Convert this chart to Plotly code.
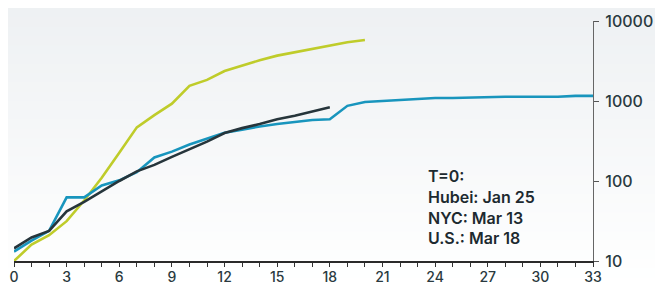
import plotly.graph_objects as go

# Data (day since T=0, cumulative count, log scale)
days_yellow = list(range(0, 21))
vals_yellow = [10, 16, 21, 31.5, 57, 110, 225, 468, 667, 927, 1550, 1835, 2370,
               2780, 3230, 3690, 4050, 4530, 4980, 5420, 5780]

days_blue = list(range(0, 34))
vals_blue = [13.1, 18, 23.8, 62.5, 62.5, 88, 102, 129, 197, 233, 286, 340, 400,
             437, 480, 515, 550, 580, 590, 870, 970, 1000, 1030, 1060, 1090, 1090,
             1110, 1110, 1130, 1130, 1130, 1130, 1160, 1160]

days_dark = list(range(0, 19))
vals_dark = [14.4, 19.7, 23.8, 41.7, 55, 75, 100, 132, 159, 200, 248, 310, 398,
             458, 515, 590, 655, 733, 835]

x_ticks = list(range(0, 34))
x_ticktext = [str(v) if v % 3 == 0 else "" for v in x_ticks]
y_ticks = [10, 100, 1000, 10000]
y_ticktext = ["10", "100", "1000", "10000"]

note_lines = ["T=0:", "Hubei: Jan 25", "NYC: Mar 13", "U.S.: Mar 18"]

fig = go.Figure()

# figure is drawn 8px in from the page corner, so size it to the visible area
W, H = 655, 279
t_m, b_m, l_m, r_m = 13, 26, 6, 70
ph = H - t_m - b_m

# background gradient bands
n = 30
top = (238, 241, 243)
bot = (255, 255, 255)
for i in range(n):
    f = i / (n - 1)
    c = tuple(int(round(top[k] + (bot[k] - top[k]) * f)) for k in range(3))
    y0px = H * i / n
    y1px = H * (i + 1) / n + 1
    fig.add_shape(type="rect", xref="paper", yref="paper", layer="below",
                  x0=-0.05, x1=1.2,
                  y0=1 - (y1px - t_m) / ph, y1=1 - (y0px - t_m) / ph,
                  line=dict(width=0), fillcolor="rgb(%d,%d,%d)" % c)

fig.add_trace(go.Scatter(x=days_yellow, y=vals_yellow, mode="lines",
                         line=dict(color="#bfcc2a", width=2.6), showlegend=False))
fig.add_trace(go.Scatter(x=days_blue, y=vals_blue, mode="lines",
                         line=dict(color="#1895bd", width=2.6), showlegend=False))
fig.add_trace(go.Scatter(x=days_dark, y=vals_dark, mode="lines",
                         line=dict(color="#26353b", width=2.6), showlegend=False))

fig.add_annotation(xref="x", yref="paper", x=23.5, y=0.404, xanchor="left", yanchor="top",
                   align="left", showarrow=False,
                   text="<br>".join(note_lines),
                   font=dict(family="Inter", size=16, color="#1d2a30", weight=600))

fig.update_layout(
    width=W, height=H,
    margin=dict(l=l_m, r=r_m, t=t_m, b=b_m, autoexpand=False),
    paper_bgcolor="rgba(0,0,0,0)", plot_bgcolor="rgba(0,0,0,0)",
    font=dict(family="Inter", size=16, color="#2a3a40"),
    xaxis=dict(range=[0, 33], tickvals=x_ticks, ticktext=x_ticktext, automargin=False,
               ticks="outside", ticklen=4, tickcolor="#333", tickwidth=1,
               showline=True, linecolor="#2a2a2a", linewidth=1.5,
               showgrid=False, zeroline=False, ticklabelstandoff=-2,
               tickfont=dict(family="Inter", size=14, color="#2a3a40", weight=500)),
    yaxis=dict(type="log", range=[1, 4], side="right", tickvals=y_ticks, ticktext=y_ticktext,
               automargin=False,
               ticks="outside", ticklen=5, tickcolor="#555", tickwidth=1,
               showline=True, linecolor="#666", linewidth=1.2,
               showgrid=False, zeroline=False, ticklabelstandoff=3,
               tickfont=dict(family="Inter", size=16, color="#2a3a40", weight=500)),
)

fig.write_html("out.html")
